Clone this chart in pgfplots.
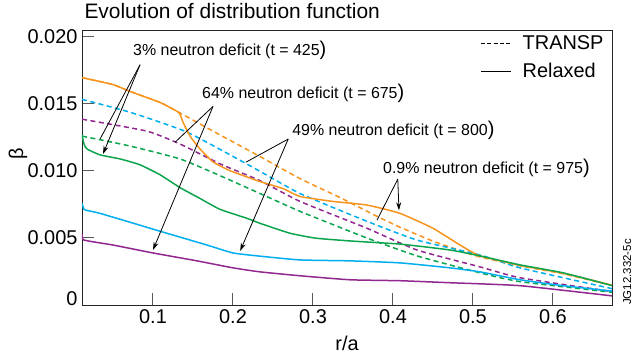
\documentclass[border=0pt]{standalone}
\usepackage{pgfplots}
\pgfplotsset{compat=1.18}
\usetikzlibrary{arrows.meta}
\usepackage{fontspec}
\setmainfont{Liberation Sans}

\definecolor{cOrange}{HTML}{F7941D}
\definecolor{cCyan}{HTML}{00AEEF}
\definecolor{cGreen}{HTML}{0BA54D}
\definecolor{cPurple}{HTML}{92278F}

% annotation text: the closing bracket is set larger
\newcommand{\deficit}[2]{#1\% neutron deficit (t = #2{\fontsize{20}{20}\selectfont )}}

\begin{document}
\begin{tikzpicture}
\useasboundingbox (-82bp,-51bp) rectangle (553bp,305bp);
\begin{axis}[
  scale only axis, width=530bp, height=275bp,
  xmin=0.01125, xmax=0.6738, ymin=0, ymax=0.0205,
  scaled y ticks=false, scaled x ticks=false,
  axis line style={line width=0.8bp, black!85},
  tick align=inside, xtick pos=bottom, ytick pos=left,
  major tick length=12bp,
  tick style={line width=1bp, black!65},
  xtick={0.1,0.2,0.3,0.4,0.5,0.6},
  xticklabels={0.1,0.2,0.3,0.4,0.5,0.6},
  ytick={0,0.005,0.01,0.015,0.02},
  yticklabels={\raisebox{12bp}{0},0.005,0.010,0.015,0.020},
  /pgf/number format/assume math mode=true,
  ticklabel style={font=\fontsize{20}{22}\selectfont},
  xticklabel style={yshift=-1bp},
  yticklabel style={xshift=-1bp},
  xlabel={r/a}, ylabel={β},
  label style={font=\fontsize{20}{22}\selectfont},
  xlabel style={at={(axis description cs:0.5,-0.138)}, anchor=center},
  ylabel style={at={(axis description cs:-0.121,0.55)}, anchor=center},
  title={Evolution of distribution function},
  title style={font=\fontsize{21}{23}\selectfont, at={(axis description cs:0,1)}, anchor=base west, xshift=-1bp, yshift=6bp},
  legend style={at={(axis description cs:0.99,0.99)}, anchor=north east, draw=none, fill=none,
    font=\fontsize{20}{22}\selectfont, row sep=8bp, inner sep=1bp,
    /tikz/every odd column/.append style={column sep=9bp}},
  legend cell align=left,
  legend image code/.code={\draw[#1, line width=0.9bp] (0bp,0bp) -- (30bp,0bp);},
  every axis plot/.append style={line width=1.5bp, smooth, tension=0.3},
  clip=true,
]
\addlegendimage{black, dash pattern=on 4bp off 2.2bp}
\addlegendentry{TRANSP}
\addlegendimage{black}
\addlegendentry{Relaxed}

% TRANSP profiles (dashed)
\addplot[cOrange, dash pattern=on 5bp off 3.5bp, forget plot] coordinates {
(0.0113,0.01695) (0.05,0.01643) (0.0713,0.01592) (0.1088,0.0151) (0.13,0.01444)
(0.175,0.01296) (0.23,0.01119) (0.2838,0.00942) (0.3338,0.00801) (0.38,0.00661)
(0.4088,0.0058) (0.45,0.00476) (0.4925,0.00388) (0.5088,0.00358) (0.5588,0.00292)
(0.6125,0.00233) (0.6738,0.00145)};
\addplot[cCyan, dash pattern=on 5bp off 3.5bp, forget plot] coordinates {
(0.0113,0.01533) (0.0713,0.01437) (0.1425,0.01289) (0.2213,0.01038) (0.2838,0.00831)
(0.3675,0.00624) (0.43,0.00484) (0.5088,0.00373) (0.5588,0.00277) (0.6738,0.00122)};
\addplot[cPurple, dash pattern=on 5bp off 3.5bp, forget plot] coordinates {
(0.0113,0.01385) (0.0925,0.01296) (0.1338,0.012) (0.1838,0.01052) (0.2338,0.00927)
(0.2838,0.00772) (0.3675,0.00572) (0.43,0.0041) (0.5088,0.00284) (0.5588,0.00203)
(0.6738,0.001)};
\addplot[cGreen, dash pattern=on 5bp off 3.5bp, forget plot] coordinates {
(0.0113,0.01259) (0.0713,0.01185) (0.1338,0.01089) (0.1838,0.00964) (0.2338,0.00831)
(0.2838,0.00698) (0.3675,0.00499) (0.43,0.00366) (0.5088,0.0024) (0.5588,0.00174)
(0.6738,0.00095)};

% relaxed profiles (solid)
\addplot[cOrange, forget plot] coordinates {
(0.0113,0.01695) (0.05,0.01643) (0.0713,0.01592) (0.1088,0.0151) (0.13,0.01444)
(0.1338,0.01422) (0.1375,0.01363) (0.1463,0.01259) (0.1588,0.01163) (0.175,0.01067)
(0.1963,0.01001) (0.2338,0.0092) (0.2625,0.00868) (0.2838,0.00809) (0.325,0.00772)
(0.3675,0.00745) (0.4088,0.00683) (0.45,0.00572) (0.4838,0.00447) (0.5088,0.00366)
(0.5588,0.00295) (0.6125,0.00237) (0.6738,0.00148)};
\addplot[cGreen, forget plot] coordinates {
(0.0113,0.01267) (0.0138,0.0120) (0.0175,0.01163) (0.0338,0.01119) (0.0588,0.01089)
(0.0838,0.01045) (0.1088,0.00971) (0.1338,0.00875) (0.1588,0.00794) (0.1838,0.00713)
(0.2175,0.00646) (0.2338,0.00609) (0.2713,0.00535) (0.3038,0.00498) (0.35,0.00476)
(0.4088,0.00454) (0.4713,0.0041) (0.5088,0.00366) (0.5588,0.00299) (0.6125,0.0024)
(0.6738,0.00145)};
\addplot[cCyan, forget plot] coordinates {
(0.0113,0.00757) (0.0138,0.00713) (0.0175,0.00705) (0.0338,0.00683) (0.0713,0.00617)
(0.0963,0.00572) (0.1338,0.00506) (0.1675,0.00447) (0.2,0.00388) (0.2338,0.00364)
(0.2838,0.00336) (0.3463,0.00329) (0.4088,0.00314) (0.4713,0.00277) (0.5088,0.00247)
(0.5588,0.00188) (0.6125,0.00144) (0.6738,0.00104)};
\addplot[cPurple, forget plot] coordinates {
(0.0113,0.00528) (0.0138,0.00484) (0.05,0.00447) (0.1,0.00388) (0.155,0.00329)
(0.2,0.00277) (0.2338,0.00247) (0.2838,0.00218) (0.3463,0.00188) (0.4088,0.00181)
(0.4713,0.00166) (0.5588,0.00144) (0.6738,0.00068)};

% annotations
\tikzset{ann/.style={line width=0.8bp, black}, tip/.style={-{Stealth[length=8bp,width=5bp]}}}
\node[anchor=west, inner sep=0, font=\fontsize{16}{18}\selectfont] at (axis cs:0.075,0.01902) {\deficit{3}{425}};
\draw[ann] (axis cs:0.0838,0.01791) -- (axis cs:0.0338,0.01237);
\draw[ann,tip] (axis cs:0.0838,0.01791) -- (axis cs:0.0375,0.01126);

\node[anchor=west, inner sep=0, font=\fontsize{16}{18}\selectfont] at (axis cs:0.1613,0.01577) {\deficit{64}{675}};
\draw[ann] (axis cs:0.175,0.0148) -- (axis cs:0.1275,0.01213);
\draw[ann,tip] (axis cs:0.175,0.0148) -- (axis cs:0.1,0.0041);

\node[anchor=west, inner sep=0, font=\fontsize{16}{18}\selectfont] at (axis cs:0.274,0.01303) {\deficit{49}{800}};
\draw[ann] (axis cs:0.269,0.01237) -- (axis cs:0.216,0.01064);
\draw[ann,tip] (axis cs:0.269,0.01237) -- (axis cs:0.209,0.00403);

\node[anchor=west, inner sep=0, font=\fontsize{16}{18}\selectfont] at (axis cs:0.3875,0.01015) {\deficit{0.9}{975}};
\draw[ann] (axis cs:0.406,0.00938) -- (axis cs:0.38,0.00632);
\draw[ann,tip] (axis cs:0.406,0.00938) -- (axis cs:0.4075,0.00706);
\end{axis}
\node[rotate=90, anchor=north west, inner sep=0, font=\fontsize{11.5}{13}\selectfont]
  at (541bp,0bp) {JG12.332-5c};
\end{tikzpicture}
\end{document}
